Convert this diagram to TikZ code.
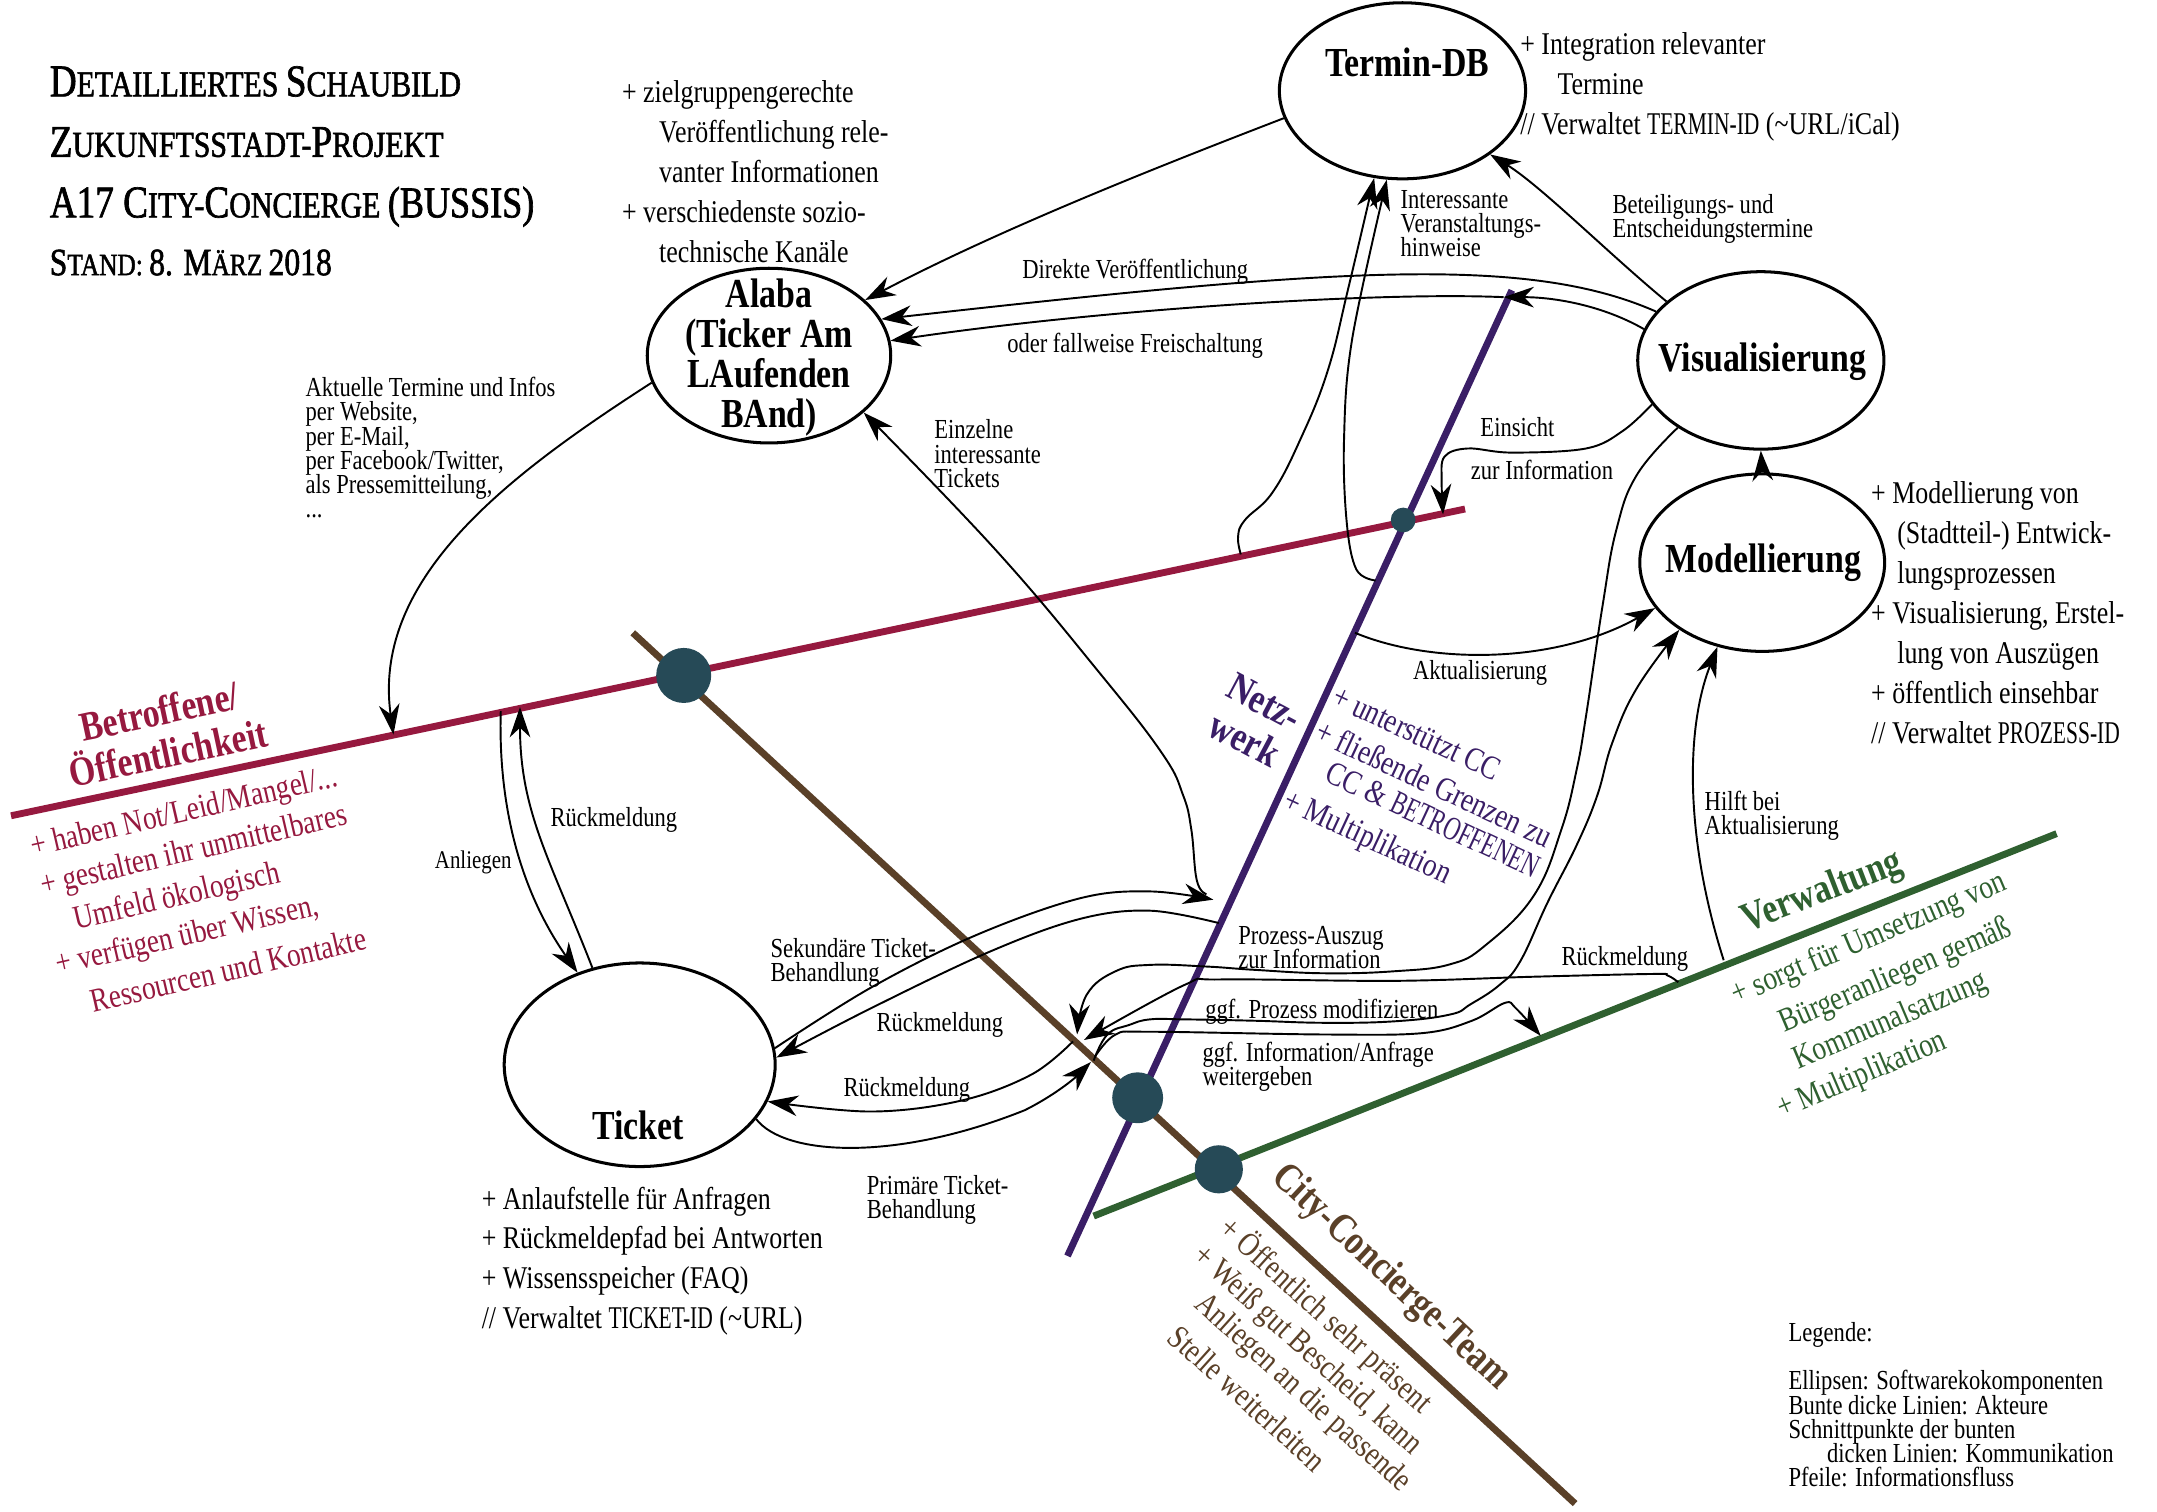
\documentclass[tikz,border=0pt]{standalone}
\usepackage{fontspec}
\setmainfont[FakeStretch=0.82]{Liberation Serif}
\newfontfamily\titlef[FakeStretch=0.82,FakeBold=1.5]{Liberation Serif}
\newfontfamily\capf[FakeStretch=0.68]{Liberation Serif}
\usetikzlibrary{arrows.meta,shapes.geometric}
\normallineskiplimit=-30pt
\lineskiplimit=-30pt
\definecolor{cred}{HTML}{96193F}
\definecolor{cbrown}{HTML}{5A4028}
\definecolor{cpurple}{HTML}{3A1E66}
\definecolor{cgreen}{HTML}{2F6030}
\definecolor{cdot}{HTML}{264A57}
\newcommand{\fsz}[2]{\fontsize{#1}{#2}\selectfont}
\newcommand{\Cp}[1]{{\fsz{33}{33}#1}}
\newcommand{\Capn}[1]{{\capf #1}}
\tikzset{
 soft/.style={draw=black,line width=2.2pt,ellipse,inner sep=0pt,fill=white},
 softlabel/.style={font=\fsz{30}{29}\bfseries,align=center,inner sep=0},
 actor/.style={line width=5pt},
 meet/.style={ellipse,fill=cdot,inner sep=0pt},
 conn/.style={line width=1.4pt,-{Stealth[length=22pt,width=15pt,inset=7pt]}},
 big/.style={font=\fsz{23}{29},align=left,anchor=north west,inner sep=0},
 small/.style={font=\fsz{20}{17.6},align=left,anchor=north west,inner sep=0,yshift=-1pt},
 titlet/.style={font=\titlef\fsz{26.5}{26.5},anchor=base west,inner sep=0},
 listr/.style={font=\fsz{24.3}{24.3},anchor=west,inner sep=0},
 head/.style={font=\fsz{30}{31}\bfseries,align=center,inner sep=0}
}
\begin{document}
\begin{tikzpicture}[x=1pt,y=-1pt]
\useasboundingbox (0,0) rectangle (1568,1098.4);
% actors
\coordinate (bA) at (8,593); \coordinate (bB) at (1065,370);
\coordinate (cA) at (460,460); \coordinate (cB) at (1145,1093);
\coordinate (nA) at (1099,211); \coordinate (nB) at (776,913);
\coordinate (vA) at (795,884); \coordinate (vB) at (1495,606);
\draw[actor,cbrown] (cA) -- (cB);
\draw[actor,cred] (bA) -- (bB);
\draw[actor,cpurple] (nA) -- (nB);
\draw[actor,cgreen] (vA) -- (vB);
\node[meet,minimum width=40pt,minimum height=40pt] (m1) at (497,491) {};
\node[meet,minimum width=18pt,minimum height=18pt] (m2) at (1020,378) {};
\node[meet,minimum width=37pt,minimum height=37pt] (m3) at (827,798) {};
\node[meet,minimum width=35pt,minimum height=35pt] (m4) at (886,850) {};
% software ellipses
\node[soft,minimum width=179pt,minimum height=128pt] (term) at (1019.5,66) {};
\node[soft,minimum width=177pt,minimum height=127pt] (alaba) at (559,258.5) {};
\node[soft,minimum width=179pt,minimum height=129pt] (vis) at (1280,262) {};
\node[soft,minimum width=178pt,minimum height=129pt] (mod) at (1281,409) {};
\node[soft,minimum width=197pt,minimum height=148pt] (tick) at (465,774) {};
\node[softlabel] (termL) at (1023,45) {Termin-DB};
\node[softlabel] (alabaL) at (559,260) {Alaba\\(Ticker Am\\LAufenden\\BAnd)};
\node[softlabel] (visL) at (1281,263) {Visualisierung};
\node[softlabel] (modL) at (1282,409) {Modellierung};
\node[softlabel] (tickL) at (464,818) {Ticket};
% free ends
\coordinate (bT1) at (286,534); \coordinate (bT2) at (364,517); \coordinate (bT3) at (378,514);
\coordinate (bT4) at (902,403); \coordinate (bT5) at (1049,374);
\coordinate (nTop) at (1093,216); \coordinate (n1) at (1000,422); \coordinate (n2) at (985,460);
\coordinate (n3) at (877,650); \coordinate (n4) at (882,654); \coordinate (n5) at (886,671);
\coordinate (vT1) at (1253,698); \coordinate (vT2) at (1220,714); \coordinate (vT3) at (1120,753);
\coordinate (x1) at (783,752); \coordinate (x2) at (788,756); \coordinate (x3) at (780,757);
\coordinate (x4) at (795,771); \coordinate (x5) at (793,772); \coordinate (x6) at (796,768);
% connectors
\draw[conn] (term.193) .. controls (850,118) and (730,165) .. (alaba.30);
\draw[conn] (vis.148) .. controls (1170,185) and (1120,135) .. (term.-36);
\draw[conn] (vis.155) .. controls (1110,185) and (970,195) .. (alaba.18);
\draw[conn] (vis.165) .. controls (1165,222) and (1130,216) .. (nTop);
\draw[conn] (nTop) .. controls (1000,212) and (800,225) .. (alaba.7.6);
\draw[conn] plot[smooth,tension=.6] coordinates {(vis.202) (1180,313) (1153,326) (1099,329) (1067,326) (1050,332) (1048,350) (bT5)};
\draw[conn] (mod.90) -- (vis.270);
\draw[conn] plot[smooth,tension=.7] coordinates {(bT4) (900,390) (905,378) (925,358) (945,320) (965,270) (980,210) (term.252)};
\draw[conn] plot[smooth,tension=.6] coordinates {(n1) (986,414) (979,380) (977,320) (983,246) (term.260)};
\draw[conn] (n2) .. controls (1040,483) and (1130,483) .. (mod.203);
\draw[conn] plot[smooth,tension=.7] coordinates {(vis.219.5) (1190,345) (1175,385) (1165,440) (1153,520) (1146,560) (1135,603) (1115,651) (1080,687) (1054,701) (1014,706) (963,707.5) (912,705) (877,702.6) (836,701.4) (811,706) (790,723) (x1)};
\draw[conn] plot[smooth,tension=.7] coordinates {(x4) (805,752) (821,745) (836,741) (861,741) (912,742) (963,743.5) (1014,742.4) (1054,737.5) (1069,730) (1090,716) (1105,699) (1125,656) (1146,614.6) (1161,578.5) (1172,540) (1190,500) (mod.219)};
\draw[conn] (vT1) .. controls (1225,610) and (1225,530) .. (mod.242);
\draw[conn] plot[smooth,tension=.6] coordinates {(vT2) (1212,709) (1201,708) (1115,710) (1014,713) (887,712) (861,716) (x2)};
\draw[conn] plot[smooth,tension=.6] coordinates {(x6) (811,752) (836,750) (963,752) (1034,751) (1070,742) (1094,729) (1102,733) (vT3)};
\draw[conn] plot[smooth,tension=.6] coordinates {(tick.7.6) (633,718) (709,680) (785,653) (836,648) (n4)};
\draw[conn] plot[smooth,tension=.6] coordinates {(n5) (836,662) (785,668) (719,692) (633,733) (tick.3)};
\draw[conn] plot[smooth,tension=.6] coordinates {(x3) (750,781) (699,800) (633,808) (tick.-16.5)};
\draw[conn] (tick.-25) .. controls (570,840) and (650,845) .. (745,807) .. controls (765,797) and (780,785) .. (x5);
\draw[conn] plot[smooth,tension=.7] coordinates {(n3) (870,640) (866,603) (860,578) (845,548) (800,490) (724,400) (alaba.-31.6)};
\draw[conn] (alaba.193) .. controls (370,345) and (270,420) .. (bT1);
\draw[conn] (bT2) .. controls (362,590) and (380,650) .. (tick.124);
\draw[conn] (tick.116) .. controls (400,625) and (378,590) .. (bT3);
% title
\node[titlet] (t1) at (36,70) {\Cp{D}ETAILLIERTES \Cp{S}CHAUBILD};
\node[titlet] (t2) at (36,114) {\Cp{Z}UKUNFTSSTADT-\Cp{P}ROJEKT};
\node[titlet] (t3) at (36,158) {\Cp{A17 C}ITY-\Cp{C}ONCIERGE {\fsz{32}{32}(BUSSIS)}};
\node[titlet,font=\titlef\fsz{22.5}{22.5}] (t4) at (36,200) {{\fsz{28}{28}S}TAND: {\fsz{28}{28}8. M}ÄRZ {\fsz{28}{28}2018}};
% big text blocks
\node[big] (tAl) at (452,58.5) {+ zielgruppengerechte\\\hspace*{27pt}Veröffentlichung rele-\\\hspace*{27pt}vanter Informationen\\+ verschiedenste sozio-\\\hspace*{27pt}technische Kanäle};
\node[big] (tTe) at (1105,23.5) {+ Integration relevanter\\\hspace*{27pt}Termine\\// Verwaltet \Capn{TERMIN-ID} (\textasciitilde URL/iCal)};
\node[big] (tMo) at (1360,350) {+ Modellierung von\\\hspace*{19pt}(Stadtteil-) Entwick-\\\hspace*{19pt}lungsprozessen\\+ Visualisierung, Erstel-\\\hspace*{19pt}lung von Auszügen\\+ öffentlich einsehbar\\// Verwaltet \Capn{PROZESS-ID}};
\node[big] (tTi) at (350,862.5) {+ Anlaufstelle für Anfragen\\+ Rückmeldepfad bei Antworten\\+ Wissensspeicher (FAQ)\\// Verwaltet \Capn{TICKET-ID} (\textasciitilde URL)};
% small labels
\node[small] (l1) at (222,273) {Aktuelle Termine und Infos\\per Website,\\per E-Mail,\\per Facebook/Twitter,\\als Pressemitteilung,\\...};
\node[small] (l2) at (679,304) {Einzelne\\interessante\\Tickets};
\node[small] (l3) at (743,187) {Direkte Veröffentlichung};
\node[small] (l4) at (732,241) {oder fallweise Freischaltung};
\node[small] (l5) at (1018,137) {Interessante\\Veranstaltungs-\\hinweise};
\node[small] (l6) at (1172,140) {Beteiligungs- und\\Entscheidungstermine};
\node[small] (l7) at (1076,302) {Einsicht};
\node[small] (l8) at (1069,333) {zur Information};
\node[small] (l9) at (1027,479) {Aktualisierung};
\node[small] (l10) at (1239,574) {Hilft bei\\Aktualisierung};
\node[small] (l11) at (1135,687) {Rückmeldung};
\node[small] (l12) at (900,672) {Prozess-Auszug\\zur Information};
\node[small] (l13) at (560,681) {Sekundäre Ticket-\\Behandlung};
\node[small] (l14) at (637,735) {Rückmeldung};
\node[small] (l15) at (613,782) {Rückmeldung};
\node[small] (l16) at (876,725) {ggf. Prozess modifizieren};
\node[small] (l17) at (874,756) {ggf. Information/Anfrage\\weitergeben};
\node[small] (l18) at (630,853) {Primäre Ticket-\\Behandlung};
\node[small,font=\fsz{18.5}{17.6}] (l19) at (316,617) {Anliegen};
\node[small] (l20) at (400,586) {Rückmeldung};
\node[small] (l21) at (1300,960) {Legende:\\[17.6pt]Ellipsen: Softwarekokomponenten\\Bunte dicke Linien: Akteure\\Schnittpunkte der bunten\\\hspace*{28pt}dicken Linien: Kommunikation\\Pfeile: Informationsfluss};
% Betroffene
\node[head,text=cred,rotate=12] (hB) at (119,532) {Betroffene/\\Öffentlichkeit};
\begin{scope}[every node/.style={listr,text=cred,rotate=13}]
\node (r1) at (23,617) {+ haben Not/Leid/Mangel/...};
\node (r2) at (30,645) {+ gestalten ihr unmittelbares};
\node (r3) at (54,670) {Umfeld ökologisch};
\node (r4) at (41,703) {+ verfügen über Wissen,};
\node (r5) at (66,728) {Ressourcen und Kontakte};
\end{scope}
% Netzwerk
\node[head,text=cpurple,rotate=-28] (hN) at (912,524) {Netz-\\werk};
\begin{scope}[every node/.style={listr,text=cpurple,rotate=-25}]
\node (p1) at (970,505) {+ unterstützt CC};
\node (p2) at (958,530) {+ fließende Grenzen zu};
\node (p3) at (965,560) {CC \& \Capn{BETROFFENEN}};
\node (p4) at (934,582) {+ Multiplikation};
\end{scope}
% Verwaltung
\node[head,text=cgreen,rotate=21] (hV) at (1325,649) {Verwaltung};
\begin{scope}[every node/.style={listr,text=cgreen,rotate=23}]
\node (g1) at (1260,725) {+ sorgt für Umsetzung von};
\node (g2) at (1295,745) {Bürgeranliegen gemäß};
\node (g3) at (1305,772) {Kommunalsatzung};
\node (g4) at (1293,808) {+ Multiplikation};
\end{scope}
% City-Concierge
\node[head,text=cbrown,rotate=-43] (hC) at (1011,929) {City-Concierge-Team};
\begin{scope}[every node/.style={listr,text=cbrown,rotate=-42}]
\node (c1) at (890,890) {+ Öffentlich sehr präsent};
\node (c2) at (870,910) {+ Weiß gut Bescheid, kann};
\node (c3) at (871,945) {Anliegen an die passende};
\node (c4) at (853,968) {Stelle weiterleiten};
\end{scope}
\end{tikzpicture}
\end{document}
